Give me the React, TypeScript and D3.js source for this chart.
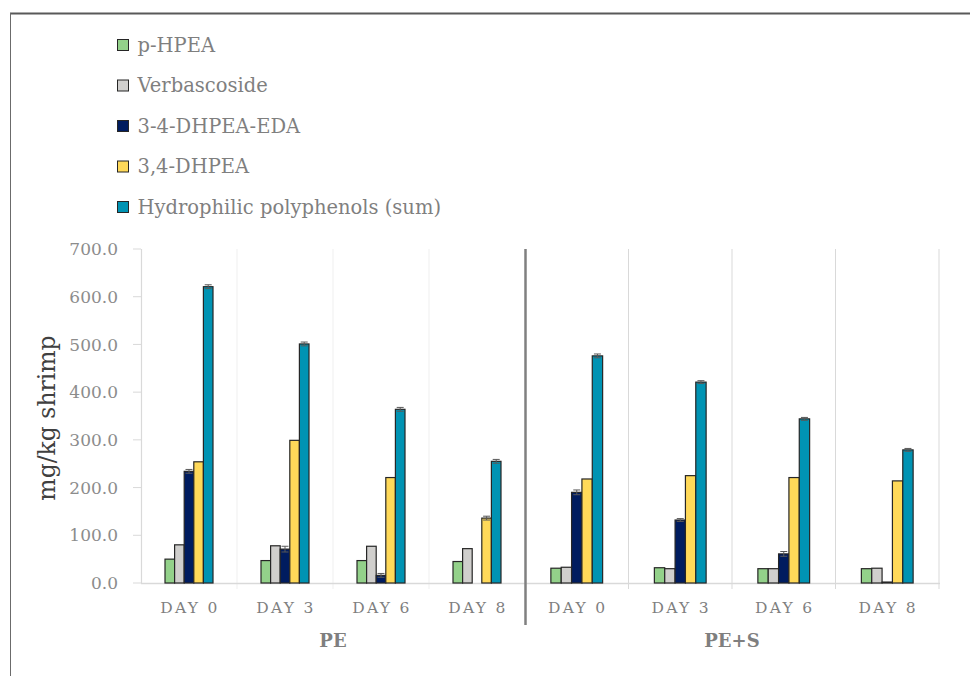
import React from "react";
import * as d3 from "d3";

const days = ["DAY 0", "DAY 3", "DAY 6", "DAY 8"];
const groups = ["PE", "PE+S"];
const seriesNames = ["p-HPEA", "Verbascoside", "3-4-DHPEA-EDA", "3,4-DHPEA", "Hydrophilic polyphenols (sum)"];
const seriesColors = ["#93d18a", "#d0cfcd", "#001c5f", "#ffd959", "#0093b3"];

// values per series: PE days 0,3,6,8 then PE+S days 0,3,6,8
const pHPEA = [50, 47, 47, 45, 31, 32, 30, 30];
const verbascoside = [80, 78, 77, 72, 33, 30, 30, 31];
const dhpeaEDA = [234, 71, 16, 0, 190, 132, 61, 2];
const dhpea = [254, 299, 221, 136, 218, 225, 221, 214];
const sumPoly = [621, 501, 364, 255, 476, 421, 344, 279];

const errPHPEA = [0, 0, 0, 0, 0, 0, 0, 0];
const errVerb = [0, 0, 0, 0, 0, 0, 0, 0];
const errEDA = [4, 6, 4, 0, 5, 3, 5, 0];
const errDHPEA = [0, 0, 0, 4, 0, 0, 0, 0];
const errSum = [4, 4, 4, 4, 4, 3, 3, 3];

const yTicks = [0, 100, 200, 300, 400, 500, 600, 700];

const allValues = [pHPEA, verbascoside, dhpeaEDA, dhpea, sumPoly];
const allErrors = [errPHPEA, errVerb, errEDA, errDHPEA, errSum];

const FONT = "'DejaVu Serif', serif";

export default function App() {
  const y = d3.scaleLinear().domain([0, 700]).range([583, 249]);
  const xPE = d3.scaleBand().domain(days).range([141, 525]).paddingInner(0).paddingOuter(0);
  const xPS = d3.scaleBand().domain(days).range([525, 939]).paddingInner(0).paddingOuter(0);
  const groupScales = [xPE, xPS];

  const marks: React.ReactNode[] = [];
  const grid: React.ReactNode[] = [];
  const labels: React.ReactNode[] = [];

  groupScales.forEach((gx, gi) => {
    const inner = d3.scaleBand().domain(seriesNames).range([0, gx.bandwidth()]).paddingInner(0).paddingOuter(2.5);
    days.forEach((day, di) => {
      const idx = gi * 4 + di;
      const x0 = gx(day)!;
      const xb = x0 + gx.bandwidth();
      if (!(gi === 0 && di === 3)) {
        grid.push(
          <line key={`g${gi}${di}`} x1={xb} x2={xb} y1={249} y2={589}
            stroke={gi === 0 ? "#efefef" : "#d9d9d9"} strokeWidth={1} />
        );
      }
      labels.push(
        <text key={`l${gi}${di}`} x={x0 + gx.bandwidth() / 2 + 1} y={613} textAnchor="middle"
          fontFamily={FONT} fontSize={15.5} letterSpacing={2.3} fill="#7f7f7f">{day}</text>
      );
      seriesNames.forEach((s, si) => {
        const v = allValues[si][idx];
        const e = allErrors[si][idx];
        const bx = x0 + inner(s)!;
        const bw = inner.bandwidth();
        const top = y(v);
        marks.push(
          <rect key={`b${gi}${di}${si}`} x={bx} y={top} width={bw} height={Math.max(0, 583 - top)}
            fill={seriesColors[si]} stroke="#262626" strokeWidth={1.2} />
        );
        if (e > 0) {
          const cx = bx + bw / 2;
          marks.push(
            <g key={`e${gi}${di}${si}`} stroke="#595959" strokeWidth={1}>
              <line x1={cx} x2={cx} y1={y(v + e)} y2={y(v - e)} />
              <line x1={cx - 3.5} x2={cx + 3.5} y1={y(v + e)} y2={y(v + e)} />
              <line x1={cx - 3.5} x2={cx + 3.5} y1={y(v - e)} y2={y(v - e)} />
            </g>
          );
        }
      });
    });
  });

  return (
    <svg width={970} height={676} style={{ position: "absolute", left: 0, top: 0, background: "#fff" }}>
      <rect x={0} y={0} width={970} height={676} fill="#fff" />
      {/* frame */}
      <line x1={10} x2={970} y1={13.5} y2={13.5} stroke="#595959" strokeWidth={2} />
      <line x1={10.5} x2={10.5} y1={13} y2={676} stroke="#6b6b6b" strokeWidth={1} />

      {/* legend */}
      {seriesNames.map((s, i) => (
        <g key={s} transform={`translate(117.5, ${39.5 + i * 40.5})`}>
          <rect x={0} y={0} width={11} height={11} fill={seriesColors[i]} stroke="#262626" strokeWidth={1} />
          <text x={20} y={12} fontFamily={FONT} fontSize={19.5} fill="#7f7f7f">{s}</text>
        </g>
      ))}

      {grid}
      <line x1={141.5} x2={141.5} y1={249} y2={583} stroke="#d9d9d9" strokeWidth={1.2} />
      {yTicks.map((t) => (
        <g key={t}>
          <line x1={133} x2={141} y1={y(t)} y2={y(t)} stroke="#d9d9d9" strokeWidth={1} />
          <text x={118} y={y(t)} dy="0.36em" textAnchor="end" fontFamily={FONT} fontSize={17} fill="#8c8c8c">
            {t.toFixed(1)}
          </text>
        </g>
      ))}
      <line x1={141} x2={940} y1={583.5} y2={583.5} stroke="#d9d9d9" strokeWidth={1.5} />

      {marks}

      {/* divider */}
      <line x1={525.5} x2={525.5} y1={249} y2={625} stroke="#808080" strokeWidth={2.5} />

      {labels}
      {groups.map((g, gi) => {
        const sc = groupScales[gi];
        const [a, b] = sc.range();
        return (
          <text key={g} x={(a + b) / 2} y={647} textAnchor="middle" fontFamily={FONT}
            fontWeight="bold" fontSize={18} fill="#7f7f7f">{g}</text>
        );
      })}

      <text transform={`translate(55, 418) rotate(-90)`} textAnchor="middle" fontFamily={FONT}
        fontSize={23.5} fill="#404040">mg/kg shrimp</text>
    </svg>
  );
}
